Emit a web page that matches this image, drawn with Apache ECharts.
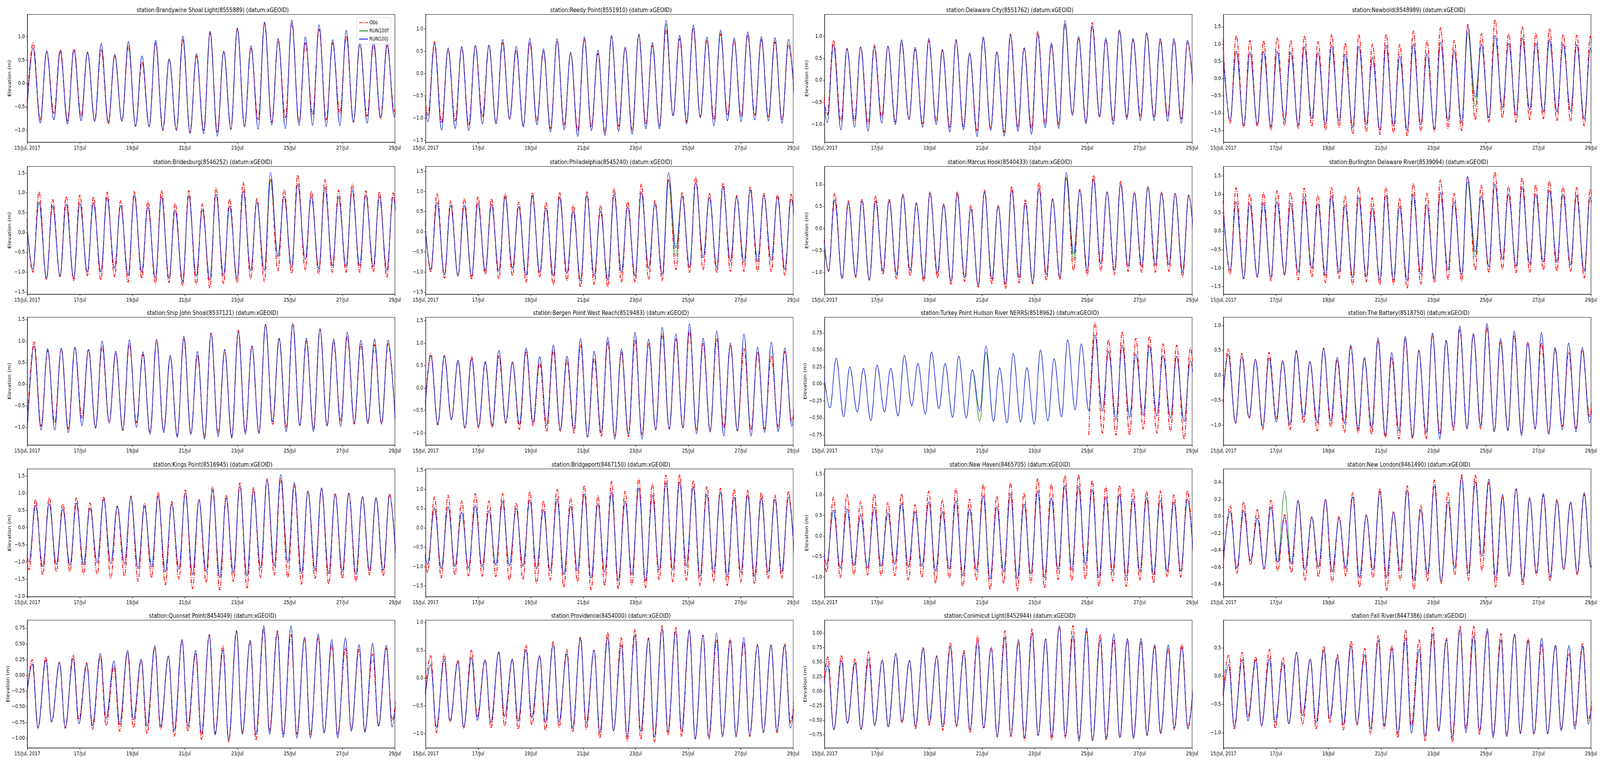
<!DOCTYPE html>
<html><head><meta charset="utf-8">
<script src="https://cdn.jsdelivr.net/npm/echarts@6/dist/echarts.min.js"></script>
<style>html,body{margin:0;padding:0;background:#fff;overflow:hidden}#chart{width:5150px;height:1950px;transform-origin:0 0}</style>
</head><body><div id="chart"></div>
<script>
// ---------- DATA ----------
const stationTitles = [
  "station:Brandywine Shoal Light(8555889) (datum:xGEOID)",
  "station:Reedy Point(8551910) (datum:xGEOID)",
  "station:Delaware City(8551762) (datum:xGEOID)",
  "station:Newbold(8548989) (datum:xGEOID)",
  "station:Bridesburg(8546252) (datum:xGEOID)",
  "station:Philadelphia(8545240) (datum:xGEOID)",
  "station:Marcus Hook(8540433) (datum:xGEOID)",
  "station:Burlington Delaware River(8539094) (datum:xGEOID)",
  "station:Ship John Shoal(8537121) (datum:xGEOID)",
  "station:Bergen Point West Reach(8519483) (datum:xGEOID)",
  "station:Turkey Point Hudson River NERRS(8518962) (datum:xGEOID)",
  "station:The Battery(8518750) (datum:xGEOID)",
  "station:Kings Point(8516945) (datum:xGEOID)",
  "station:Bridgeport(8467150) (datum:xGEOID)",
  "station:New Haven(8465705) (datum:xGEOID)",
  "station:New London(8461490) (datum:xGEOID)",
  "station:Quonset Point(8454049) (datum:xGEOID)",
  "station:Providence(8454000) (datum:xGEOID)",
  "station:Conimicut Light(8452944) (datum:xGEOID)",
  "station:Fall River(8447386) (datum:xGEOID)"
];
const seriesNames = ["Obs", "RUN100f", "RUN100j"];
const xTickLabels = ["15/Jul, 2017", "17/Jul", "19/Jul", "21/Jul", "23/Jul", "25/Jul", "27/Jul", "29/Jul"];
const tideHalfCycleHours = 12.45; // time between successive high waters (hours)
// time of first listed high water (hours after 15/Jul 00:00) and low-to-high rise time (hours)
const firstHighHours = [5.2, -4.35, -4.35, -0.75, -1.85, -2.05, -3.2, -0.95, 6.1, 4.7, -1.85, 4.3, -4.95, -4.35, -4.35, 6.1, 4.5, 4.6, 3.0, 4.7];
const riseHours = [5.85, 6.0, 5.6, 5.6, 5.6, 5.7, 5.65, 5.4, 6.0, 6.1, 5.6, 5.7, 5.9, 6.3, 6.2, 6.35, 7.2, 7.2, 7.0, 7.25];

const yMin = [-1.26, -1.54, -1.40, -1.84, -1.556, -1.55, -1.49, -1.71, -1.41, -1.27, -0.897, -1.395, -2.005, -1.78, -1.47, -0.945, -1.155, -1.256, -0.975, -1.27];
const yMax = [1.48, 1.33, 1.495, 1.86, 1.667, 1.62, 1.41, 1.76, 1.553, 1.575, 0.98, 1.164, 1.71, 1.53, 1.63, 0.56, 0.88, 1.04, 1.225, 0.99];
const yTicks = [
  [-1, -0.5, 0, 0.5, 1],
  [-1.5, -1, -0.5, 0, 0.5, 1],
  [-1, -0.5, 0, 0.5, 1],
  [-1.5, -1, -0.5, 0, 0.5, 1, 1.5],
  [-1.5, -1, -0.5, 0, 0.5, 1, 1.5],
  [-1.5, -1, -0.5, 0, 0.5, 1, 1.5],
  [-1, -0.5, 0, 0.5, 1],
  [-1.5, -1, -0.5, 0, 0.5, 1, 1.5],
  [-1, -0.5, 0, 0.5, 1, 1.5],
  [-1, -0.5, 0, 0.5, 1, 1.5],
  [-0.75, -0.5, -0.25, 0, 0.25, 0.5, 0.75],
  [-1, -0.5, 0, 0.5, 1],
  [-2, -1.5, -1, -0.5, 0, 0.5, 1, 1.5],
  [-1.5, -1, -0.5, 0, 0.5, 1, 1.5],
  [-1, -0.5, 0, 0.5, 1, 1.5],
  [-0.8, -0.6, -0.4, -0.2, 0, 0.2, 0.4],
  [-1, -0.75, -0.5, -0.25, 0, 0.25, 0.5, 0.75],
  [-1, -0.5, 0, 0.5, 1],
  [-0.75, -0.5, -0.25, 0, 0.25, 0.5, 0.75, 1],
  [-1, -0.5, 0, 0.5]
];
const yDecimals = [1,1,1,1, 1,1,1,1, 1,1,2,1, 1,1,1,1, 2,1,2,1];

// High / low water levels (m). Low k comes just before high k.
const brandywineObsHigh = [0.87,0.69,0.73,0.74,0.67,0.73,0.59,0.80,0.46,0.87,0.52,0.94,0.59,1.08,0.69,1.18,0.76,1.29,0.92,1.30,0.87,1.16,0.87,1.01,0.85,0.84,0.81,0.80];
const brandywineObsLow = [-0.55,-0.78,-0.64,-0.80,-0.70,-0.81,-0.87,-0.81,-0.92,-0.92,-1.01,-1.00,-1.05,-1.01,-1.04,-0.98,-0.92,-0.77,-0.83,-0.73,-0.83,-0.67,-0.78,-0.64,-0.83,-0.70,-0.76,-0.60];
const brandywineModHigh = [0.76,0.70,0.69,0.71,0.67,0.86,0.62,0.90,0.59,0.93,0.53,1.02,0.64,1.12,0.69,1.19,0.81,1.32,0.96,1.36,1.00,1.26,0.94,1.14,0.88,0.92,0.87,0.85];
const brandywineModLow = [-0.70,-0.85,-0.78,-0.87,-0.80,-0.81,-0.83,-0.81,-0.92,-0.93,-0.99,-1.01,-1.07,-1.08,-1.13,-0.98,-0.93,-0.98,-0.89,-0.97,-0.90,-0.90,-0.92,-0.90,-0.83,-0.85,-0.73,-0.72];

const reedyObsHigh = [0.50,0.72,0.54,0.58,0.63,0.63,0.69,0.52,0.69,0.50,0.74,0.46,0.78,0.45,0.83,0.58,0.88,0.63,1.00,0.78,1.02,0.74,0.89,0.74,0.86,0.76,0.71,0.67];
const reedyObsLow = [null,-0.93,-1.10,-1.06,-1.15,-0.97,-1.11,-1.02,-1.17,-1.06,-1.23,-1.15,-1.28,-1.19,-1.32,-1.18,-1.26,-1.13,-1.18,-0.93,-1.08,-0.97,-1.03,-0.93,-0.96,-0.93,-0.97,-1.04,-0.95];
const reedyModHigh = [0.50,0.68,0.58,0.61,0.63,0.64,0.77,0.61,0.79,0.56,0.78,0.48,0.83,0.53,0.86,0.60,0.89,0.70,1.20,0.86,1.09,0.82,0.98,0.80,0.94,0.83,0.81,0.77];
const reedyModLow = [null,-1.08,-1.27,-1.23,-1.28,-1.13,-1.13,-1.02,-1.20,-1.15,-1.31,-1.26,-1.41,-1.28,-1.39,-1.30,-1.36,-1.24,-1.24,-0.95,-1.13,-0.99,-1.17,-1.06,-1.08,-1.04,-1.06,-1.11,-1.00];

const delawareObsHigh = [0.60,0.91,0.71,0.76,0.80,0.77,0.88,0.70,0.90,0.69,0.90,0.61,0.96,0.65,1.05,0.74,1.11,0.79,1.27,0.96,1.31,0.92,1.14,0.92,1.07,0.91,0.90,0.86];
const delawareObsLow = [null,-0.78,-0.92,-0.91,-0.98,-0.83,-0.94,-0.88,-0.98,-0.92,-1.07,-1.04,-1.14,-1.08,-1.17,-1.05,-1.09,-0.98,-1.00,-0.78,-0.94,-0.83,-0.92,-0.82,-0.81,-0.83,-0.81,-0.87,-0.70];
const delawareModHigh = [0.60,0.81,0.73,0.76,0.76,0.78,0.92,0.75,0.95,0.70,0.93,0.62,0.99,0.65,1.03,0.74,1.05,0.85,1.36,1.00,1.23,0.96,1.14,0.95,1.08,0.95,0.95,0.91];
const delawareModLow = [null,-0.95,-1.12,-1.06,-1.15,-0.97,-1.00,-0.88,-1.06,-1.00,-1.17,-1.12,-1.27,-1.13,-1.26,-1.15,-1.22,-1.07,-1.09,-0.79,-0.98,-0.83,-1.00,-0.88,-0.91,-0.91,-0.92,-0.97,-0.70];

const newboldObsHigh = [1.15,1.25,1.10,1.10,1.19,1.11,1.24,1.07,1.28,1.03,1.27,1.00,1.29,0.99,1.38,1.10,1.48,1.11,1.57,1.30,1.71,1.30,1.51,1.32,1.44,1.28,1.26,1.23];
const newboldObsLow = [null,-1.28,-1.41,-1.38,-1.49,-1.36,-1.45,-1.38,-1.49,-1.41,-1.60,-1.54,-1.61,-1.58,-1.66,-1.53,-1.53,-1.44,-1.50,-1.19,-1.26,-1.13,-1.26,-1.19,-1.16,-1.21,-1.23,-1.37,-1.20];
const newboldModHigh = [0.87,0.80,0.76,0.79,0.79,0.77,0.93,0.75,0.96,0.71,0.94,0.62,0.96,0.65,1.00,0.73,1.06,0.81,1.50,1.00,1.25,1.03,1.19,1.02,1.14,1.00,0.99,0.88];
const newboldModLow = [null,-1.20,-1.36,-1.32,-1.38,-1.20,-1.33,-1.16,-1.33,-1.24,-1.41,-1.33,-1.49,-1.37,-1.49,-1.33,-1.45,-1.21,-1.27,-0.54,-1.13,-0.85,-1.05,-0.90,-0.96,-0.96,-0.94,-1.17,-1.10];

const bridesburgObsHigh = [0.75,1.03,0.83,0.91,0.95,0.90,1.02,0.80,1.03,0.79,1.06,0.74,1.06,0.72,1.13,0.85,1.26,0.86,1.35,1.08,1.45,1.04,1.33,1.07,1.22,1.05,1.03,1.00];
const bridesburgObsLow = [null,-1.00,-1.19,-1.11,-1.21,-1.09,-1.19,-1.11,-1.25,-1.15,-1.29,-1.26,-1.35,-1.31,-1.40,-1.29,-1.27,-1.17,-1.23,-0.96,-1.03,-0.93,-1.05,-1.00,-1.00,-1.00,-1.00,-1.13,-1.00];
const bridesburgModHigh = [0.70,0.77,0.68,0.72,0.74,0.75,0.88,0.68,0.94,0.65,0.91,0.56,0.93,0.58,0.97,0.67,1.05,0.77,1.52,0.91,1.22,0.91,1.13,0.90,1.08,0.94,0.91,0.89];
const bridesburgModLow = [null,-0.93,-1.15,-1.10,-1.15,-1.00,-1.00,-0.90,-1.08,-1.00,-1.15,-1.15,-1.23,-1.10,-1.20,-1.08,-1.15,-0.96,-0.96,-0.62,-0.88,-0.67,-0.91,-0.84,-0.86,-0.84,-0.86,-0.96,-0.90];

const philadelphiaObsHigh = [0.80,0.95,0.77,0.83,0.87,0.82,0.94,0.74,0.97,0.73,0.98,0.66,0.99,0.66,1.07,0.76,1.18,0.77,1.29,0.98,1.36,0.95,1.21,0.90,1.12,0.95,0.93,0.93];
const philadelphiaObsLow = [null,-1.00,-1.15,-1.10,-1.18,-1.06,-1.17,-1.09,-1.25,-1.12,-1.31,-1.21,-1.37,-1.30,-1.37,-1.25,-1.25,-1.18,-1.21,-0.94,-1.01,-0.94,-1.02,-0.98,-0.98,-0.98,-0.99,-1.08,-1.00];
const philadelphiaModHigh = [0.70,0.72,0.65,0.65,0.71,0.68,0.86,0.62,0.89,0.58,0.86,0.52,0.90,0.52,0.93,0.62,0.98,0.69,1.47,0.88,1.22,0.86,1.12,0.86,1.03,0.90,0.86,0.81];
const philadelphiaModLow = [null,-0.93,-1.06,-1.08,-1.10,-0.96,-0.98,-0.91,-1.08,-1.01,-1.10,-1.03,-1.22,-1.10,-1.20,-1.01,-1.10,-0.91,-1.06,-0.40,-0.89,-0.64,-0.89,-0.74,-0.76,-0.74,-0.72,-0.93,-0.90];

const marcusObsHigh = [0.60,0.80,0.63,0.67,0.74,0.67,0.78,0.58,0.83,0.56,0.83,0.53,0.87,0.53,0.96,0.65,1.04,0.67,1.15,0.89,1.21,0.83,1.07,0.83,0.96,0.83,0.80,0.76];
const marcusObsLow = [null,-0.97,-1.14,-1.10,-1.17,-1.04,-1.15,-1.07,-1.20,-1.12,-1.26,-1.20,-1.33,-1.26,-1.36,-1.23,-1.25,-1.17,-1.16,-0.95,-1.06,-0.97,-1.04,-0.97,-0.99,-0.99,-0.97,-1.10,-1.00];
const marcusModHigh = [0.60,0.65,0.58,0.62,0.63,0.63,0.78,0.58,0.80,0.55,0.78,0.45,0.83,0.50,0.87,0.57,0.91,0.67,1.28,0.87,1.12,0.83,1.00,0.80,0.94,0.81,0.80,0.76];
const marcusModLow = [null,-0.97,-1.13,-1.08,-1.17,-0.96,-1.04,-0.95,-1.13,-1.01,-1.20,-1.11,-1.28,-1.15,-1.26,-1.11,-1.22,-1.04,-1.11,-0.57,-0.95,-0.80,-0.95,-0.86,-0.86,-0.83,-0.82,-0.99,-0.95];

const burlingtonObsHigh = [1.05,1.18,1.01,1.05,1.10,1.05,1.17,0.98,1.20,0.96,1.20,0.91,1.21,0.89,1.30,1.03,1.40,1.03,1.49,1.24,1.61,1.22,1.45,1.26,1.37,1.21,1.19,1.14];
const burlingtonObsLow = [null,-1.17,-1.29,-1.25,-1.35,-1.20,-1.32,-1.24,-1.39,-1.28,-1.45,-1.37,-1.46,-1.44,-1.55,-1.43,-1.39,-1.32,-1.35,-1.05,-1.12,-1.03,-1.12,-1.11,-1.05,-1.08,-1.09,-1.27,-1.10];
const burlingtonModHigh = [0.85,0.80,0.76,0.77,0.81,0.76,0.93,0.75,0.96,0.71,0.92,0.64,0.98,0.67,1.00,0.73,1.05,0.80,1.49,0.96,1.28,1.01,1.20,1.01,1.12,1.00,0.98,0.92];
const burlingtonModLow = [null,-1.05,-1.29,-1.24,-1.25,-1.16,-1.11,-1.00,-1.20,-1.11,-1.25,-1.23,-1.32,-1.32,-1.34,-1.16,-1.27,-1.05,-1.19,-0.55,-0.96,-0.76,-0.95,-0.90,-0.84,-0.84,-0.92,-1.08,-1.00];

const shipJohnObsHigh = [0.98,0.78,0.83,0.85,0.81,0.87,0.72,0.94,0.69,1.02,0.65,1.05,0.67,1.19,0.78,1.25,0.89,1.39,1.05,1.42,1.00,1.28,0.98,1.11,0.92,0.92,0.94];
const shipJohnObsLow = [-0.80,-0.97,-0.89,-1.03,-0.78,-1.01,-0.89,-1.07,-0.89,-1.12,-1.09,-1.19,-1.14,-1.23,-1.14,-1.21,-1.10,-1.12,-0.94,-1.00,-0.95,-1.03,-0.96,-0.85,-0.92,-0.87,-0.92,-0.75];
const shipJohnModHigh = [0.89,0.83,0.84,0.86,0.81,1.00,0.77,1.03,0.75,1.04,0.67,1.12,0.76,1.19,0.81,1.21,0.89,1.39,1.07,1.39,1.07,1.28,1.05,1.21,1.02,1.05,1.02];
const shipJohnModLow = [-1.00,-1.06,-1.06,-1.12,-0.96,-1.02,-0.89,-1.05,-1.00,-1.16,-1.12,-1.23,-1.16,-1.27,-1.21,-1.25,-1.16,-1.14,-0.87,-1.10,-0.96,-1.10,-0.97,-0.98,-0.89,-0.92,-0.92,-0.80];

const bergenObsHigh = [0.77,0.73,0.59,0.70,0.57,0.71,0.57,0.81,0.56,0.84,0.61,0.96,0.66,1.02,0.79,1.07,1.00,1.20,1.09,1.27,0.99,1.09,0.96,0.88,0.79,0.72,0.81,0.75];
const bergenObsLow = [-0.70,-0.82,-0.69,-0.89,-0.89,-0.88,-0.78,-0.92,-0.84,-0.97,-0.96,-1.00,-1.09,-1.08,-1.08,-1.08,-1.04,-0.93,-0.91,-0.89,-0.95,-0.95,-0.89,-0.95,-0.93,-0.91,-0.86,-0.75];
const bergenModHigh = [0.72,0.71,0.62,0.65,0.59,0.84,0.58,0.89,0.70,0.96,0.71,1.10,0.82,1.13,0.87,1.24,1.09,1.35,1.20,1.43,1.11,1.27,1.00,1.20,0.91,1.02,0.89,0.75];
const bergenModLow = [-0.80,-0.80,-0.71,-0.89,-0.85,-0.83,-0.76,-0.81,-0.77,-0.83,-0.93,-0.92,-1.09,-0.99,-1.14,-1.02,-1.14,-0.93,-0.92,-0.89,-1.02,-0.98,-1.07,-0.95,-1.07,-0.99,-0.97,-0.85];

const turkeyObsHigh = [null,null,null,null,null,null,null,null,null,null,null,null,null,null,null,null,null,null,null,null,0.90,0.65,0.77,0.67,0.70,0.59,0.57,0.53];
const turkeyObsLow = [null,null,null,null,null,null,null,null,null,null,null,null,null,null,null,null,null,null,null,null,-0.75,-0.72,-0.75,-0.75,-0.66,-0.72,-0.70,-0.81,-0.80];
const turkeyModHigh = [0.30,0.38,0.25,0.23,0.28,0.23,0.42,0.30,0.47,0.30,0.41,0.21,0.56,0.24,0.45,0.24,0.50,0.37,0.65,0.59,0.72,0.48,0.57,0.44,0.56,0.42,0.41,0.34];
const turkeyModLow = [null,-0.35,-0.48,-0.41,-0.54,-0.41,-0.47,-0.32,-0.44,-0.36,-0.49,-0.50,-0.40,-0.55,-0.57,-0.56,-0.59,-0.54,-0.48,-0.38,-0.39,-0.40,-0.52,-0.49,-0.46,-0.47,-0.50,-0.55,-0.55];

const batteryObsHigh = [0.53,0.44,0.32,0.46,0.30,0.48,0.27,0.55,0.30,0.57,0.34,0.69,0.36,0.73,0.50,0.82,0.70,0.91,0.82,0.96,0.67,0.80,0.67,0.65,0.53,0.47,0.51,0.50];
const batteryObsLow = [-0.85,-0.96,-0.86,-1.08,-0.86,-1.09,-0.95,-1.11,-1.03,-1.14,-1.15,-1.18,-1.25,-1.27,-1.27,-1.27,-1.17,-1.10,-1.07,-1.07,-1.13,-1.09,-1.17,-1.07,-1.17,-1.02,-1.06,-0.82];
const batteryModHigh = [0.42,0.38,0.32,0.35,0.28,0.50,0.28,0.54,0.36,0.61,0.36,0.75,0.46,0.78,0.49,0.85,0.70,0.99,0.84,1.04,0.74,0.89,0.65,0.86,0.56,0.65,0.56,0.50];
const batteryModLow = [-0.75,-0.95,-0.84,-1.02,-0.93,-0.98,-0.84,-0.95,-0.91,-0.96,-1.07,-1.06,-1.20,-1.11,-1.23,-1.15,-1.28,-1.05,-1.07,-1.01,-1.12,-1.11,-1.21,-1.07,-1.18,-1.09,-1.13,-0.95];

const kingsObsHigh = [0.60,0.82,0.87,0.69,0.88,0.72,0.90,0.63,0.92,0.71,1.03,0.76,1.10,0.82,1.20,0.95,1.30,1.17,1.42,1.42,1.24,1.08,1.14,1.00,0.99,0.91,0.87,0.99];
const kingsObsLow = [null,-1.22,-1.37,-1.28,-1.28,-1.35,-1.35,-1.47,-1.40,-1.55,-1.45,-1.66,-1.49,-1.77,-1.59,-1.81,-1.56,-1.75,-1.45,-1.37,-1.45,-1.64,-1.47,-1.64,-1.47,-1.56,-1.37,-1.40,-1.40];
const kingsModHigh = [0.55,0.66,0.70,0.54,0.72,0.57,0.83,0.63,0.87,0.62,0.91,0.69,1.00,0.80,1.09,0.86,1.20,1.07,1.38,1.54,1.31,1.04,1.16,0.97,1.01,0.90,0.87,0.94];
const kingsModLow = [null,-1.00,-1.13,-1.07,-1.09,-1.08,-1.02,-1.05,-1.05,-1.18,-1.14,-1.28,-1.20,-1.37,-1.28,-1.45,-1.31,-1.41,-1.18,-1.12,-1.02,-1.34,-1.24,-1.34,-1.28,-1.35,-1.25,-1.24,-1.25];

const bridgeportObsHigh = [0.70,0.80,0.85,0.70,0.89,0.70,0.89,0.65,0.94,0.70,1.00,0.78,1.10,0.83,1.20,0.95,1.28,1.14,1.37,1.38,1.23,1.08,1.03,1.00,0.97,0.92,0.85,0.95];
const bridgeportObsLow = [null,-1.15,-1.29,-1.21,-1.24,-1.25,-1.26,-1.35,-1.33,-1.43,-1.35,-1.53,-1.39,-1.60,-1.49,-1.58,-1.47,-1.54,-1.34,-1.39,-1.35,-1.49,-1.38,-1.49,-1.39,-1.45,-1.31,-1.30,-1.30];
const bridgeportModHigh = [0.45,0.52,0.55,0.41,0.58,0.45,0.69,0.50,0.73,0.47,0.75,0.56,0.88,0.63,0.93,0.69,1.04,0.85,1.17,1.19,1.07,0.88,0.93,0.80,0.85,0.78,0.74,0.80];
const bridgeportModLow = [null,-0.94,-1.05,-0.99,-1.04,-1.01,-0.96,-0.98,-0.99,-1.06,-1.11,-1.21,-1.11,-1.30,-1.15,-1.37,-1.21,-1.37,-1.09,-1.09,-0.99,-1.26,-1.16,-1.26,-1.16,-1.26,-1.14,-1.14,-1.10];

const newHavenObsHigh = [0.70,0.93,1.01,0.84,1.02,0.82,1.02,0.76,1.09,0.87,1.16,0.90,1.26,0.97,1.30,1.04,1.40,1.26,1.47,1.49,1.35,1.20,1.23,1.14,1.09,1.10,1.00,1.10];
const newHavenObsLow = [null,-0.87,-1.01,-0.94,-0.94,-0.96,-0.96,-1.06,-1.00,-1.14,-1.02,-1.22,-1.07,-1.30,-1.14,-1.32,-1.13,-1.26,-1.05,-1.08,-1.04,-1.22,-1.09,-1.22,-1.06,-1.13,-0.99,-0.99,-1.00];
const newHavenModHigh = [0.50,0.63,0.66,0.52,0.70,0.56,0.79,0.59,0.83,0.60,0.86,0.67,0.98,0.71,1.03,0.78,1.10,0.93,1.23,1.21,1.13,0.95,1.01,0.90,0.93,0.88,0.82,0.90];
const newHavenModLow = [null,-0.70,-0.78,-0.71,-0.77,-0.73,-0.68,-0.75,-0.73,-0.85,-0.80,-0.96,-0.83,-1.04,-0.87,-1.04,-0.92,-1.01,-0.82,-0.82,-0.70,-1.00,-0.86,-0.99,-0.86,-0.94,-0.85,-0.85,-0.85];

const newLondonObsHigh = [0.13,0.17,0.08,0.19,0.02,0.19,0.00,0.20,0.00,0.28,0.02,0.33,0.06,0.36,0.13,0.43,0.28,0.49,0.49,0.40,0.23,0.32,0.22,0.25,0.20,0.17,0.26,0.15];
const newLondonObsLow = [-0.58,-0.67,-0.57,-0.62,-0.64,-0.66,-0.75,-0.71,-0.77,-0.70,-0.83,-0.72,-0.87,-0.75,-0.86,-0.76,-0.79,-0.69,-0.75,-0.64,-0.83,-0.71,-0.81,-0.69,-0.76,-0.63,-0.69,-0.60];
const newLondonModHigh = [0.06,0.07,-0.02,0.11,-0.01,0.18,-0.01,0.20,-0.02,0.23,0.01,0.29,0.05,0.31,0.08,0.36,0.17,0.46,0.41,0.44,0.26,0.33,0.21,0.27,0.18,0.17,0.28,0.15];
const newLondonModLow = [-0.52,-0.61,-0.52,-0.61,-0.54,-0.56,-0.63,-0.60,-0.65,-0.61,-0.72,-0.63,-0.72,-0.64,-0.76,-0.68,-0.76,-0.61,-0.67,-0.47,-0.73,-0.70,-0.76,-0.66,-0.71,-0.62,-0.67,-0.60];

const quonsetObsHigh = [0.25,0.29,0.21,0.33,0.20,0.30,0.14,0.37,0.24,0.44,0.30,0.55,0.35,0.65,0.47,0.71,0.55,0.74,0.71,0.65,0.59,0.60,0.49,0.44,0.41,0.34,0.43,0.30];
const quonsetObsLow = [-0.75,-0.84,-0.74,-0.84,-0.70,-0.86,-0.80,-0.89,-0.83,-0.93,-0.86,-0.97,-0.89,-1.02,-0.92,-1.06,-0.92,-1.03,-0.88,-0.94,-0.93,-0.95,-0.91,-0.94,-0.86,-0.88,-0.81,-0.72];
const quonsetModHigh = [0.18,0.24,0.20,0.27,0.17,0.35,0.23,0.40,0.26,0.47,0.31,0.57,0.40,0.63,0.40,0.71,0.56,0.79,0.68,0.79,0.61,0.66,0.57,0.60,0.49,0.51,0.48,0.35];
const quonsetModLow = [-0.70,-0.83,-0.74,-0.83,-0.77,-0.80,-0.69,-0.78,-0.71,-0.81,-0.81,-0.88,-0.81,-0.94,-0.95,-1.02,-0.94,-0.94,-0.94,-0.99,-1.00,-1.00,-0.92,-1.00,-0.89,-0.91,-0.81,-0.82];

const providenceObsHigh = [0.40,0.43,0.32,0.50,0.33,0.47,0.33,0.59,0.40,0.65,0.51,0.74,0.50,0.82,0.72,0.87,0.72,0.94,0.91,0.84,0.77,0.68,0.71,0.64,0.60,0.59,0.62,0.50];
const providenceObsLow = [-0.70,-0.98,-0.79,-0.90,-0.69,-0.90,-0.86,-0.92,-0.84,-0.94,-0.89,-0.97,-0.92,-1.08,-0.95,-1.13,-1.10,-1.15,-1.03,-1.05,-1.09,-1.10,-1.05,-1.03,-1.05,-0.98,-0.98,-0.80];
const providenceModHigh = [0.24,0.34,0.29,0.37,0.32,0.47,0.34,0.51,0.40,0.60,0.44,0.71,0.50,0.73,0.59,0.77,0.71,0.88,0.84,0.87,0.77,0.81,0.66,0.73,0.59,0.60,0.58,0.50];
const providenceModLow = [-0.75,-0.89,-0.77,-0.88,-0.76,-0.80,-0.69,-0.78,-0.71,-0.80,-0.79,-0.90,-0.82,-0.98,-0.95,-1.05,-0.96,-1.06,-0.96,-0.95,-1.10,-1.05,-1.05,-1.06,-1.03,-0.98,-0.95,-0.90];

const conimicutObsHigh = [0.59,0.62,0.56,0.68,0.54,0.65,0.53,0.76,0.61,0.84,0.70,0.95,0.76,1.04,0.85,1.08,0.90,1.12,1.13,1.03,0.98,0.89,0.88,0.84,0.77,0.73,0.81,0.60];
const conimicutObsLow = [-0.50,-0.66,-0.55,-0.66,-0.58,-0.62,-0.55,-0.64,-0.58,-0.67,-0.61,-0.71,-0.64,-0.77,-0.78,-0.84,-0.76,-0.84,-0.80,-0.81,-0.85,-0.84,-0.80,-0.79,-0.76,-0.72,-0.66,-0.62];
const conimicutModHigh = [0.45,0.53,0.49,0.55,0.53,0.65,0.53,0.73,0.60,0.76,0.66,0.86,0.74,0.93,0.89,1.00,0.90,1.12,0.96,1.09,0.89,0.99,0.91,0.91,0.80,0.80,0.75,0.60];
const conimicutModLow = [-0.55,-0.66,-0.55,-0.65,-0.59,-0.61,-0.52,-0.60,-0.54,-0.61,-0.59,-0.66,-0.63,-0.79,-0.75,-0.80,-0.76,-0.78,-0.77,-0.86,-0.85,-0.81,-0.80,-0.82,-0.75,-0.73,-0.63,-0.65];

const fallRiverObsHigh = [0.37,0.42,0.34,0.47,0.33,0.42,0.30,0.53,0.38,0.62,0.49,0.72,0.54,0.81,0.64,0.86,0.67,0.88,0.88,0.79,0.75,0.74,0.67,0.56,0.54,0.40,0.58,0.40];
const fallRiverObsLow = [-0.75,-0.93,-0.72,-0.88,-0.92,-0.85,-0.85,-0.94,-0.82,-0.95,-0.87,-1.02,-0.92,-1.09,-0.88,-1.14,-0.96,-1.17,-0.93,-1.03,-1.05,-1.06,-1.01,-1.03,-1.02,-0.94,-0.88,-0.78];
const fallRiverModHigh = [0.20,0.29,0.29,0.31,0.23,0.42,0.30,0.46,0.33,0.53,0.37,0.63,0.48,0.67,0.47,0.74,0.64,0.82,0.71,0.84,0.64,0.74,0.62,0.67,0.55,0.54,0.52,0.40];
const fallRiverModLow = [-0.80,-0.89,-0.79,-0.88,-0.82,-0.84,-0.70,-0.82,-0.75,-0.86,-0.84,-0.93,-0.87,-1.01,-1.01,-1.07,-0.98,-1.08,-1.00,-0.97,-1.09,-1.07,-1.02,-1.01,-1.02,-0.97,-0.94,-0.85];

// RUN100f mostly coincides with RUN100j; where it visibly differs: [station, "high"|"low", index, value]
const run100fDifferences = [
  [1, "high", 18, 1.12], [2, "high", 18, 1.28],
  [3, "high", 18, 1.33], [3, "low", 19, -0.80],
  [4, "high", 18, 1.32], [4, "low", 19, -0.58],
  [5, "high", 18, 1.26], [5, "low", 19, -0.60],
  [6, "high", 18, 1.17], [6, "low", 19, -0.70],
  [7, "high", 18, 1.33], [7, "low", 19, -0.70],
  [10, "high", 12, 0.47], [10, "low", 12, -0.55],
  [15, "high", 4, 0.30]
];

// ---------- BUILD ----------
const stationData = [
  [brandywineObsHigh, brandywineObsLow, brandywineModHigh, brandywineModLow],
  [reedyObsHigh, reedyObsLow, reedyModHigh, reedyModLow],
  [delawareObsHigh, delawareObsLow, delawareModHigh, delawareModLow],
  [newboldObsHigh, newboldObsLow, newboldModHigh, newboldModLow],
  [bridesburgObsHigh, bridesburgObsLow, bridesburgModHigh, bridesburgModLow],
  [philadelphiaObsHigh, philadelphiaObsLow, philadelphiaModHigh, philadelphiaModLow],
  [marcusObsHigh, marcusObsLow, marcusModHigh, marcusModLow],
  [burlingtonObsHigh, burlingtonObsLow, burlingtonModHigh, burlingtonModLow],
  [shipJohnObsHigh, shipJohnObsLow, shipJohnModHigh, shipJohnModLow],
  [bergenObsHigh, bergenObsLow, bergenModHigh, bergenModLow],
  [turkeyObsHigh, turkeyObsLow, turkeyModHigh, turkeyModLow],
  [batteryObsHigh, batteryObsLow, batteryModHigh, batteryModLow],
  [kingsObsHigh, kingsObsLow, kingsModHigh, kingsModLow],
  [bridgeportObsHigh, bridgeportObsLow, bridgeportModHigh, bridgeportModLow],
  [newHavenObsHigh, newHavenObsLow, newHavenModHigh, newHavenModLow],
  [newLondonObsHigh, newLondonObsLow, newLondonModHigh, newLondonModLow],
  [quonsetObsHigh, quonsetObsLow, quonsetModHigh, quonsetModLow],
  [providenceObsHigh, providenceObsLow, providenceModHigh, providenceModLow],
  [conimicutObsHigh, conimicutObsLow, conimicutModHigh, conimicutModLow],
  [fallRiverObsHigh, fallRiverObsLow, fallRiverModHigh, fallRiverModLow]
];

function tidePoints(hi, lo, t0, rise) {
  const pts = [];
  const n = Math.max(hi.length, lo.length);
  for (let k = 0; k < n; k++) {
    if (k < lo.length) pts.push([t0 + k * tideHalfCycleHours - rise, lo[k]]);
    if (k < hi.length) pts.push([t0 + k * tideHalfCycleHours, hi[k]]);
  }
  return pts;
}

const FONT = "DejaVu Sans";
const colLeft = [88, 1370, 2654, 3938];
const rowTop = [37, 426, 812, 1200, 1587];
const plotW = 1183, plotH = 327;

function fmt(v, d) {
  const s = Math.abs(v).toFixed(d);
  return v < -1e-9 ? "\u2212" + s : s;
}

const grids = [], xAxes = [], yAxes = [], titles = [], series = [];
for (let i = 0; i < 20; i++) {
  const r = Math.floor(i / 4), c = i % 4;
  grids.push({ left: colLeft[c], top: rowTop[r], width: plotW, height: plotH,
    show: true, borderColor: "#000", borderWidth: 1.2, backgroundColor: "#fff", containLabel: false });
  titles.push({ text: stationTitles[i], left: colLeft[c] + plotW / 2, top: rowTop[r] - 24, textAlign: "center",
    textStyle: { fontFamily: FONT, fontSize: 16.7, fontWeight: "normal", color: "#000" } });
  xAxes.push({ type: "value", gridIndex: i, min: 0, max: 336, interval: 48,
    axisLine: { show: true, onZero: false, lineStyle: { color: "#000", width: 1.2 } },
    axisTick: { show: true, length: 5, lineStyle: { color: "#000", width: 1.3 } },
    splitLine: { show: false },
    axisLabel: { margin: 8, fontFamily: FONT, fontSize: 13.9, color: "#000", showMinLabel: true, showMaxLabel: true,
      formatter: v => xTickLabels[Math.round(v / 48)] } });
  const d = yDecimals[i];
  yAxes.push({ type: "value", gridIndex: i, min: yMin[i], max: yMax[i],
    name: (c === 0 || c === 2) ? "Elevation (m)" : "", nameLocation: "middle", nameGap: 50, nameRotate: 90,
    nameTextStyle: { fontFamily: FONT, fontSize: 13.9, color: "#000" },
    axisLine: { show: true, onZero: false, lineStyle: { color: "#000", width: 1.3 } },
    axisTick: { show: true, length: 5, customValues: yTicks[i], lineStyle: { color: "#000", width: 1.1 } },
    splitLine: { show: false },
    axisLabel: { margin: 8, fontFamily: FONT, fontSize: 13.9, color: "#000", customValues: yTicks[i],
      formatter: v => fmt(v, d) } });

  const [oh, ol, mh, ml] = stationData[i];
  const fh = mh.slice(), fl = ml.slice();
  run100fDifferences.forEach(([s, kind, idx, val]) => {
    if (s === i) { if (kind === "high") fh[idx] = val; else fl[idx] = val; }
  });
  const common = { type: "line", xAxisIndex: i, yAxisIndex: i, symbol: "none", smooth: 0.36, smoothMonotone: "x",
    silent: true, animation: false, clip: true };
  series.push(Object.assign({}, common, { name: seriesNames[0], data: tidePoints(oh, ol, firstHighHours[i], riseHours[i]),
    itemStyle: { color: "#ff0000" }, lineStyle: { color: "#ff0000", width: 2.6, type: [11, 3, 2.5, 3] } }));
  series.push(Object.assign({}, common, { name: seriesNames[1], data: tidePoints(fh, fl, firstHighHours[i], riseHours[i]),
    itemStyle: { color: "#008000" }, lineStyle: { color: "#008000", width: 1.5 } }));
  series.push(Object.assign({}, common, { name: seriesNames[2], data: tidePoints(mh, ml, firstHighHours[i], riseHours[i]),
    itemStyle: { color: "#0000ff" }, lineStyle: { color: "#0000ff", width: 1.5 } }));
}

// The figure is laid out for 5150x1950; if the browser viewport is smaller, shrink it to fit.
const chartDom = document.getElementById("chart");
const fitX = Math.min(1, (window.innerWidth || 5150) / 5150);
const fitY = Math.min(1, (window.innerHeight || 1950) / 1950);
if (fitX < 1 || fitY < 1) chartDom.style.transform = "scale(" + fitX + "," + fitY + ")";

const chart = echarts.init(chartDom, null, { renderer: "canvas" });
chart.setOption({
  backgroundColor: "#ffffff",
  animation: false,
  title: titles,
  grid: grids,
  xAxis: xAxes,
  yAxis: yAxes,
  legend: { data: seriesNames, orient: "vertical", left: 1149, top: 45, itemWidth: 28, itemHeight: 12, itemGap: 7,
    padding: [6, 8, 6, 6], backgroundColor: "rgba(255,255,255,0.8)", borderColor: "#cccccc", borderWidth: 1, borderRadius: 3,
    itemStyle: { opacity: 0, color: "rgba(0,0,0,0)", borderColor: "rgba(0,0,0,0)", borderWidth: 0 },
    textStyle: { fontFamily: FONT, fontSize: 13.9, color: "#000" } },
  series: series
});
</script></body></html>
